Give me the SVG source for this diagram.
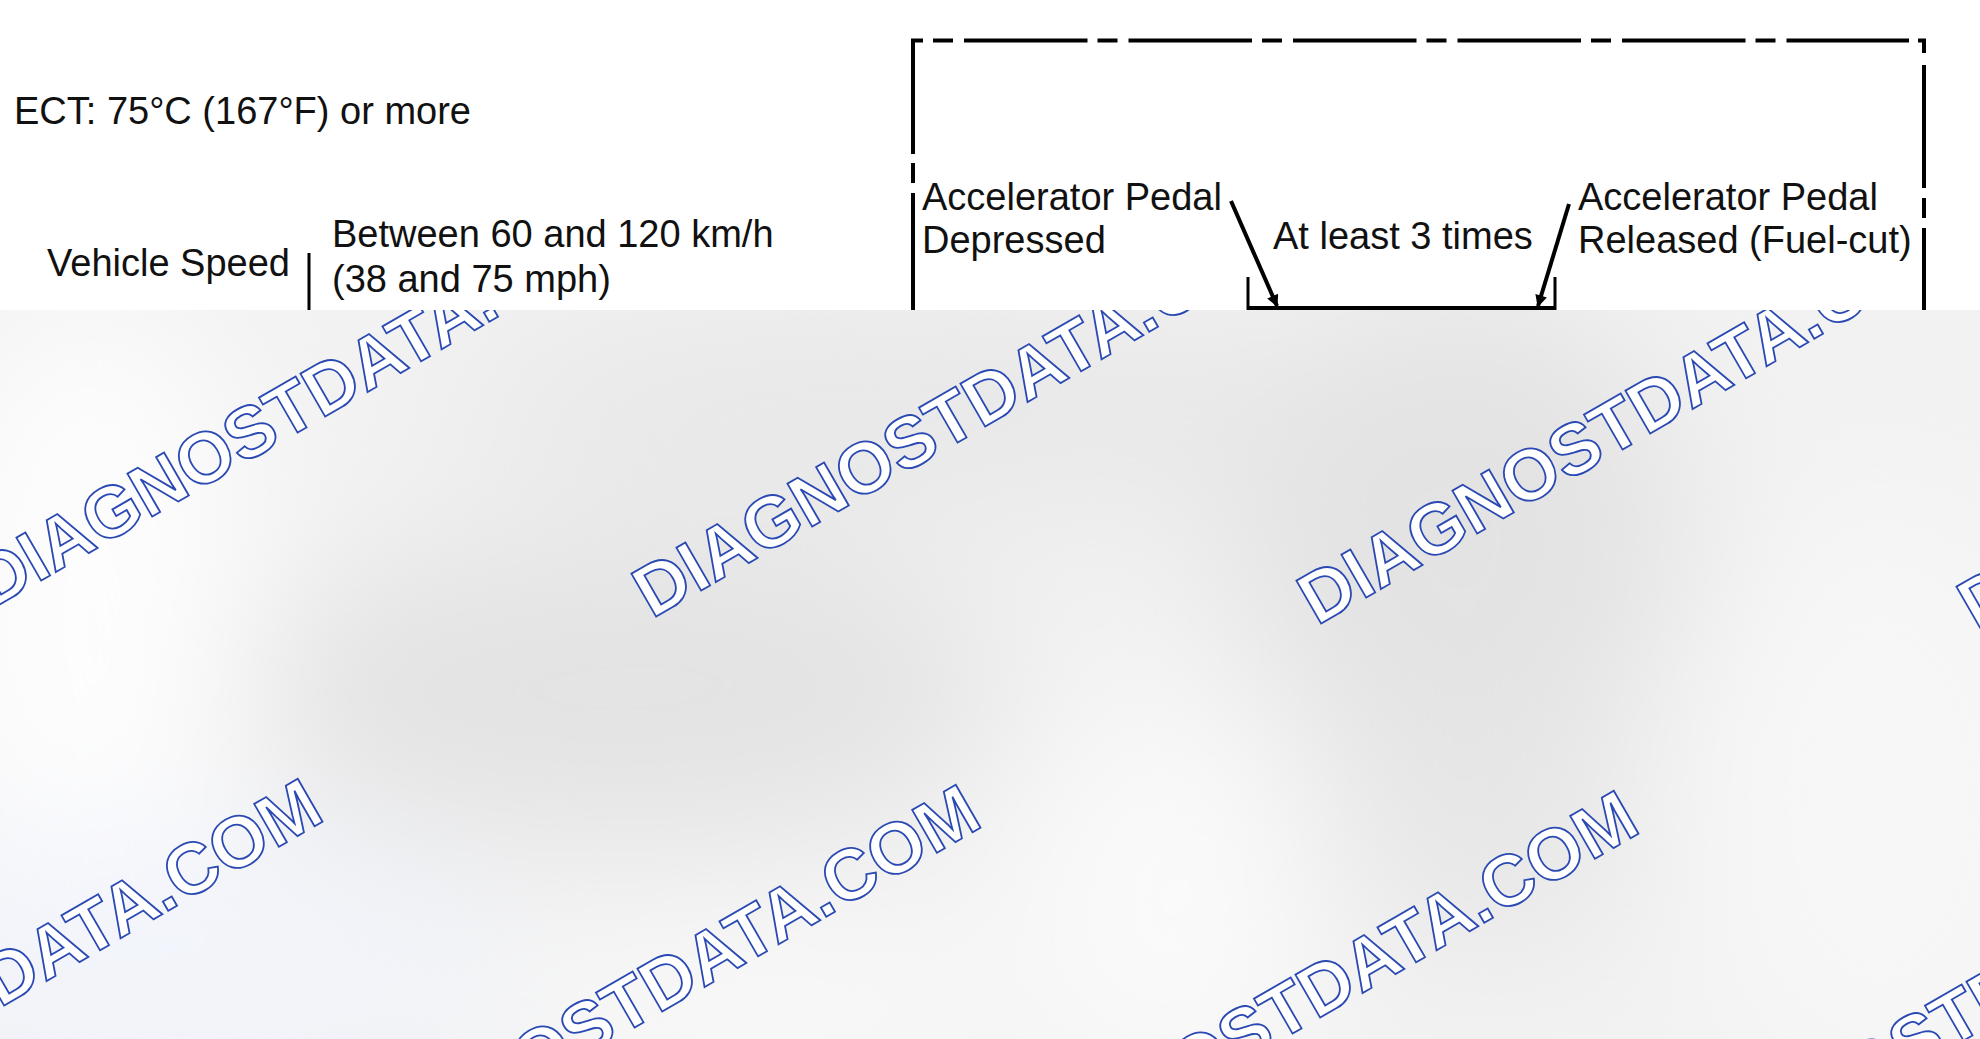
<svg xmlns="http://www.w3.org/2000/svg" width="1980" height="1039" viewBox="0 0 1980 1039">
<style>
  .t { font-family: "Liberation Sans", Arial, sans-serif; font-size: 38px; fill: #111; }
  .ln { stroke: #000; stroke-width: 4; fill: none; }
  .thin { stroke: #000; stroke-width: 3; fill: none; }
  .wm { font-family: "Liberation Sans", Arial, sans-serif; font-weight: bold; font-size: 72px; fill: #ffffff; stroke: #2a49b3; stroke-width: 1.8; }
</style>
<defs>
  <marker id="ah" viewBox="0 0 10 10" refX="9" refY="5" markerWidth="4" markerHeight="3" orient="auto" markerUnits="strokeWidth">
    <path d="M0,0 L10,5 L0,10 z" fill="#000"/>
  </marker>
  <filter id="blur" filterUnits="userSpaceOnUse" x="-200" y="100" width="2400" height="1200">
    <feGaussianBlur stdDeviation="75"/>
  </filter>
  <clipPath id="band"><rect x="0" y="310" width="1980" height="729"/></clipPath>
</defs>
<rect x="0" y="0" width="1980" height="1039" fill="#ffffff"/>

<g id="ect"><text class="t" x="14" y="124">ECT: 75°C (167°F) or more</text></g>
<g id="vehicle-speed">
  <text class="t" x="47" y="276">Vehicle Speed</text>
  <text class="t" x="332" y="247">Between 60 and 120 km/h</text>
  <text class="t" x="332" y="292">(38 and 75 mph)</text>
  <line class="thin" x1="309" y1="253" x2="309" y2="315"/>
</g>
<g id="box">
  <path class="ln" d="M913,154 V40.5 H923"/>
  <line class="ln" x1="933" y1="40.5" x2="1909" y2="40.5" stroke-dasharray="20 11 123.5 10"/>
  <path class="ln" d="M1918,40.5 H1924 V53"/>
  <line class="ln" x1="913" y1="163" x2="913" y2="183"/>
  <line class="ln" x1="913" y1="193" x2="913" y2="315"/>
  <line class="ln" x1="1924" y1="65" x2="1924" y2="188"/>
  <line class="ln" x1="1924" y1="198" x2="1924" y2="218"/>
  <line class="ln" x1="1924" y1="228" x2="1924" y2="315"/>
</g>
<g id="pedal-depressed">
  <text class="t" x="922" y="210">Accelerator Pedal</text>
  <text class="t" x="922" y="253">Depressed</text>
</g>
<g id="times"><text class="t" x="1273" y="249">At least 3 times</text></g>
<g id="pedal-released">
  <text class="t" x="1578" y="210">Accelerator Pedal</text>
  <text class="t" x="1578" y="253">Released (Fuel-cut)</text>
</g>
<g id="connectors">
  <line class="ln" x1="1231" y1="201" x2="1277" y2="306" marker-end="url(#ah)"/>
  <line class="ln" x1="1569" y1="204" x2="1538" y2="306" marker-end="url(#ah)"/>
  <line class="ln" x1="1247" y1="308" x2="1556" y2="308"/>
  <line class="thin" x1="1248" y1="277" x2="1248" y2="310"/>
  <line class="thin" x1="1555" y1="277" x2="1555" y2="310"/>
</g>

<g id="overlay" clip-path="url(#band)">
  <rect x="0" y="310" width="1980" height="729" fill="#f2f2f2"/>
  <g filter="url(#blur)">
    <ellipse cx="90" cy="620" rx="170" ry="330" fill="#fdfdfd"/>
    <ellipse cx="620" cy="690" rx="380" ry="150" fill="#e3e3e3"/>
    <ellipse cx="900" cy="410" rx="450" ry="110" fill="#e8e8e8"/>
    <ellipse cx="1460" cy="540" rx="230" ry="250" fill="#e3e3e3"/>
    <ellipse cx="1480" cy="840" rx="170" ry="110" fill="#e7e7e7"/>
    <ellipse cx="1170" cy="900" rx="150" ry="200" fill="#fafafa"/>
    <ellipse cx="180" cy="960" rx="320" ry="130" fill="#f2f4fb"/>
    <ellipse cx="1880" cy="800" rx="200" ry="300" fill="#f7f7f7"/>
    <ellipse cx="760" cy="1010" rx="260" ry="80" fill="#f9f9f9"/>
  </g>
  <g id="watermark">
    <text class="wm" transform="translate(-8,609) rotate(-30)">DIAGNOSTDATA.COM</text>
    <text class="wm" transform="translate(652,619) rotate(-30)">DIAGNOSTDATA.COM</text>
    <text class="wm" transform="translate(1317,626) rotate(-30)">DIAGNOSTDATA.COM</text>
    <text class="wm" transform="translate(1977,632) rotate(-30)">DIAGNOSTDATA.COM</text>
    <text class="wm" transform="translate(-329,1198) rotate(-30)">DIAGNOSTDATA.COM</text>
    <text class="wm" transform="translate(329,1204) rotate(-30)">DIAGNOSTDATA.COM</text>
    <text class="wm" transform="translate(987,1210) rotate(-30)">DIAGNOSTDATA.COM</text>
    <text class="wm" transform="translate(1658,1217) rotate(-30)">DIAGNOSTDATA.COM</text>
  </g>
</g>
</svg>
